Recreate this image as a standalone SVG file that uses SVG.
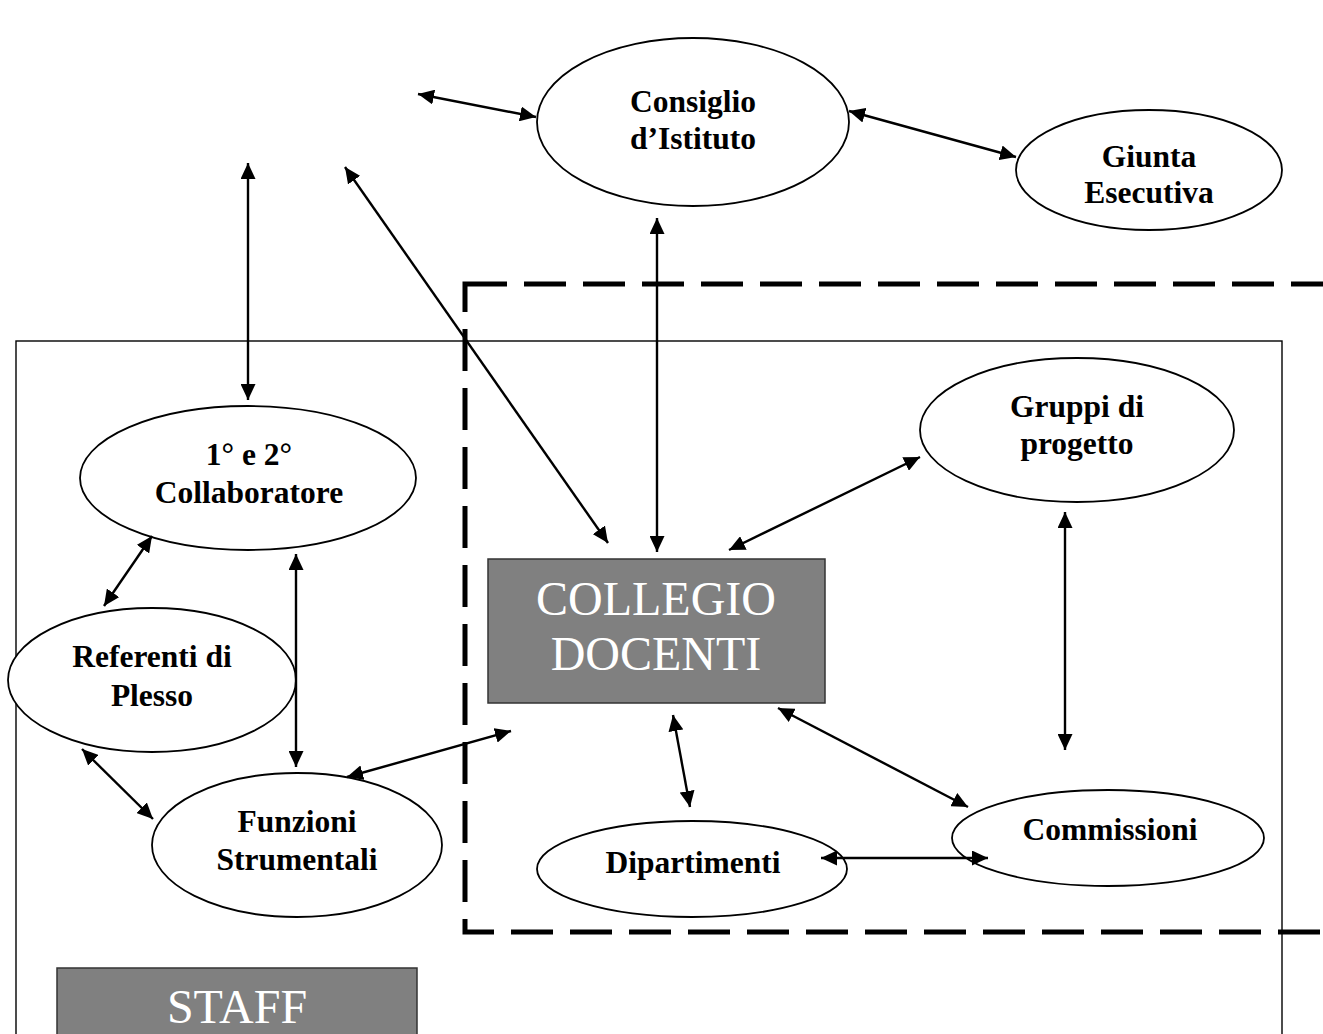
<svg xmlns="http://www.w3.org/2000/svg" width="1323" height="1034" viewBox="0 0 1323 1034">
  <style>
    .node ellipse { fill: #ffffff; stroke: #000000; stroke-width: 1.8; }
    .lbl { font-family: "Liberation Serif", "Times New Roman", serif; font-weight: bold; font-size: 31.5px; text-anchor: middle; fill: #000000; }
    .box rect { fill: #808080; stroke: #333333; stroke-width: 1.5; }
    .big { font-family: "Liberation Serif", "Times New Roman", serif; font-size: 48px; text-anchor: middle; fill: #ffffff; }
    .conn line { stroke: #000000; stroke-width: 2.4; marker-start: url(#head); marker-end: url(#head); }
  </style>
  <defs>
    <marker id="head" markerUnits="userSpaceOnUse" markerWidth="17" markerHeight="15" refX="16" refY="7.5" orient="auto-start-reverse">
      <path d="M0,0 L16,7.5 L0,15 z" fill="#000000"/>
    </marker>
  </defs>
  <rect width="1323" height="1034" fill="#ffffff"/>

  <!-- frames -->
  <g id="staff-frame">
    <rect x="16" y="341" width="1266" height="720" fill="none" stroke="#000000" stroke-width="1.4"/>
  </g>
  <g id="collegio-frame">
    <rect x="465" y="284" width="900" height="648" fill="none" stroke="#000000" stroke-width="5" stroke-dasharray="42 17"/>
  </g>

  <!-- ellipse nodes -->
  <g id="consiglio" class="node">
    <ellipse cx="693" cy="122" rx="156" ry="84"/>
    <text class="lbl" x="693" y="112">Consiglio</text>
    <text class="lbl" x="693" y="149">d’Istituto</text>
  </g>
  <g id="giunta" class="node">
    <ellipse cx="1149" cy="170" rx="133" ry="60"/>
    <text class="lbl" x="1149" y="167">Giunta</text>
    <text class="lbl" x="1149" y="203">Esecutiva</text>
  </g>
  <g id="collaboratore" class="node">
    <ellipse cx="248" cy="478" rx="168" ry="72"/>
    <text class="lbl" x="249" y="465">1° e 2°</text>
    <text class="lbl" x="249" y="503">Collaboratore</text>
  </g>
  <g id="referenti" class="node">
    <ellipse cx="152" cy="680" rx="144" ry="72"/>
    <text class="lbl" x="152" y="667">Referenti di</text>
    <text class="lbl" x="152" y="706">Plesso</text>
  </g>
  <g id="funzioni" class="node">
    <ellipse cx="297" cy="845" rx="145" ry="72"/>
    <text class="lbl" x="297" y="832">Funzioni</text>
    <text class="lbl" x="297" y="870">Strumentali</text>
  </g>
  <g id="gruppi" class="node">
    <ellipse cx="1077" cy="430" rx="157" ry="72"/>
    <text class="lbl" x="1077" y="417">Gruppi di</text>
    <text class="lbl" x="1077" y="454">progetto</text>
  </g>
  <g id="dipartimenti" class="node">
    <ellipse cx="692" cy="869" rx="155" ry="48"/>
    <text class="lbl" x="693" y="873">Dipartimenti</text>
  </g>
  <g id="commissioni" class="node">
    <ellipse cx="1108" cy="838" rx="156" ry="48"/>
    <text class="lbl" x="1110" y="840">Commissioni</text>
  </g>

  <!-- grey boxes -->
  <g id="collegio" class="box">
    <rect x="488" y="559" width="337" height="144"/>
    <text class="big" x="656" y="615">COLLEGIO</text>
    <text class="big" x="656" y="670">DOCENTI</text>
  </g>
  <g id="staff" class="box">
    <rect x="57" y="968" width="360" height="90"/>
    <text class="big" x="237" y="1023">STAFF</text>
  </g>

  <!-- connectors, drawn over the nodes -->
  <g id="connectors" class="conn">
    <line x1="418" y1="94" x2="536" y2="117"/>
    <line x1="849" y1="111" x2="1016" y2="157"/>
    <line x1="248" y1="163" x2="248" y2="400"/>
    <line x1="345" y1="167" x2="608" y2="543"/>
    <line x1="657" y1="218" x2="657" y2="552"/>
    <line x1="920" y1="457" x2="729" y2="550"/>
    <line x1="152" y1="536" x2="104" y2="606"/>
    <line x1="296" y1="554" x2="296" y2="767"/>
    <line x1="82" y1="749" x2="153" y2="819"/>
    <line x1="347" y1="777" x2="511" y2="731"/>
    <line x1="673" y1="715" x2="690" y2="807"/>
    <line x1="778" y1="708" x2="968" y2="807"/>
    <line x1="1065" y1="512" x2="1065" y2="750"/>
    <line x1="821" y1="858" x2="988" y2="858"/>
  </g>
</svg>
